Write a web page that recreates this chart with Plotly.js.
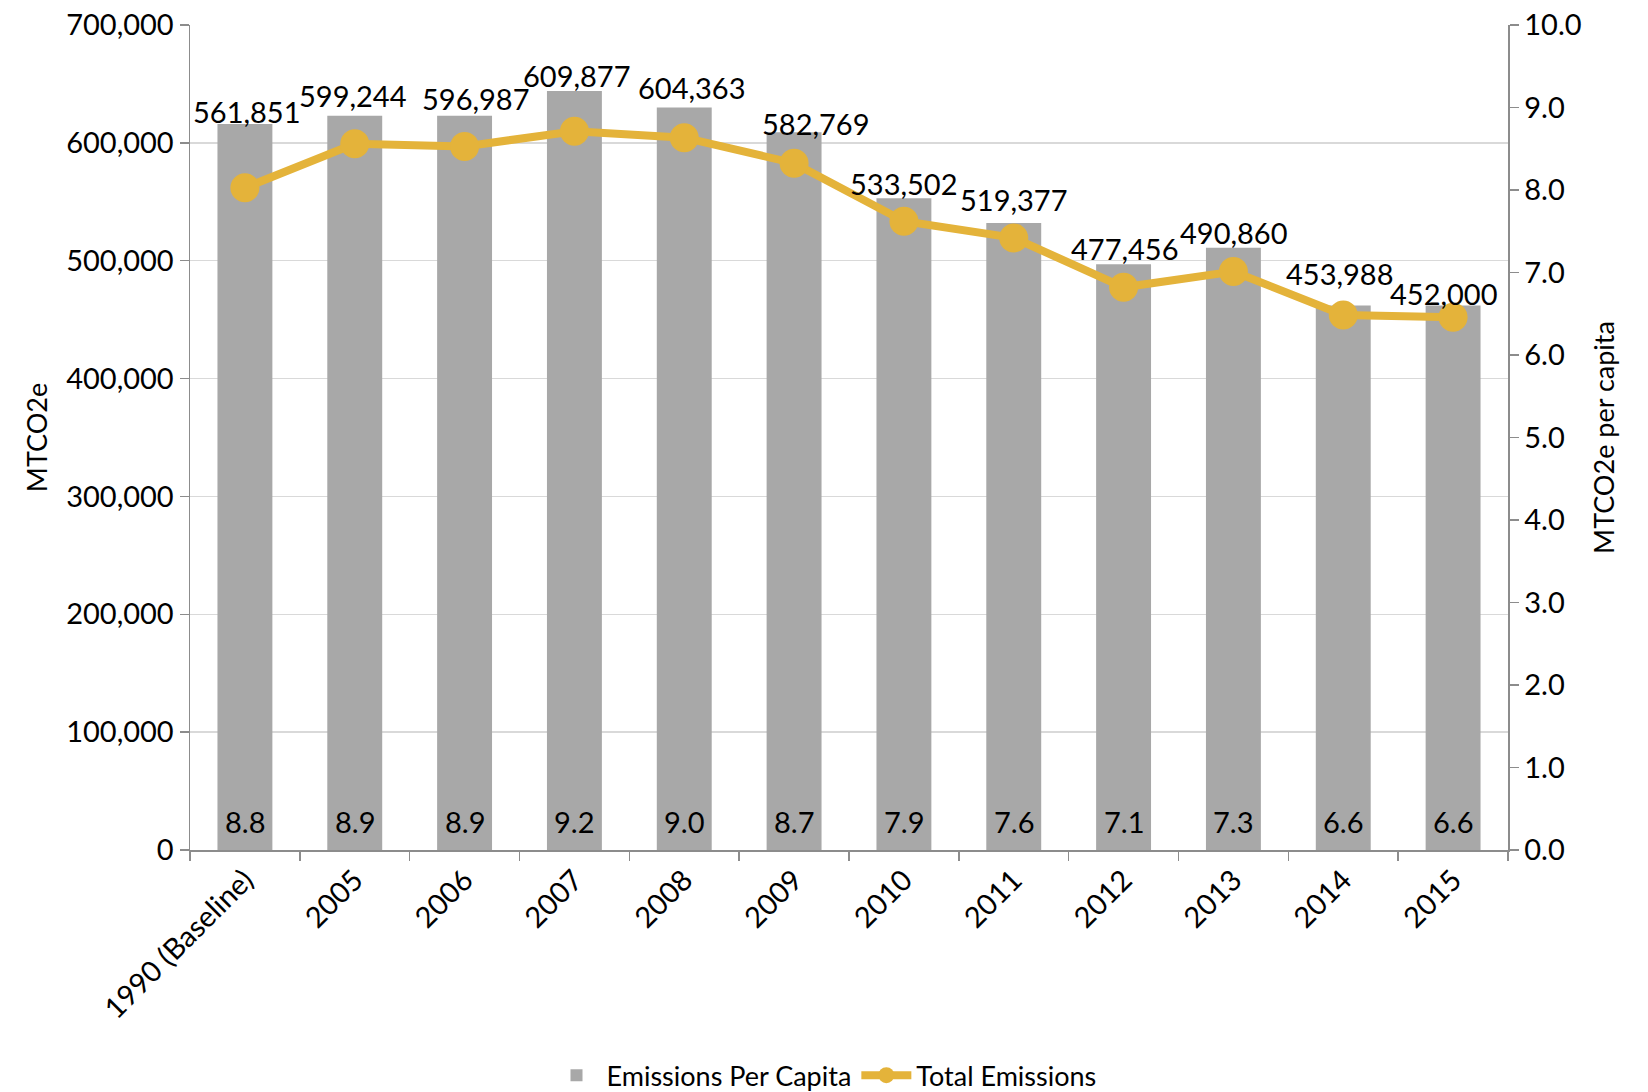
<!DOCTYPE html>
<html>
<head>
<meta charset="utf-8">
<script src="https://cdn.plot.ly/plotly-3.0.1.min.js"></script>
<style>html,body{margin:0;padding:0;background:#fff;}#chart{width:1648px;height:1092px;}</style>
</head>
<body>
<div id="chart"></div>
<script>
const years = ["1990 (Baseline)", "2005", "2006", "2007", "2008", "2009", "2010", "2011", "2012", "2013", "2014", "2015"];
const perCapita = [8.8, 8.9, 8.9, 9.2, 9.0, 8.7, 7.9, 7.6, 7.1, 7.3, 6.6, 6.6];
const totalEmissions = [561851, 599244, 596987, 609877, 604363, 582769, 533502, 519377, 477456, 490860, 453988, 452000];

// label placement offsets (pixels) for total emissions labels
const labelDx = [2, -2, 11, 3, 8, 22, 0, 0, 1, 1, -3, -9];
const labelDy = [76, 48, 48, 56, 50, 40, 38, 38, 39, 39, 41, 24];

const FONT = "Lato, 'Open Sans', sans-serif";
const GOLD = "#E4B33A";
const BARC = "#A8A8A8";
const AXC = "#8C8C8C";

const fmt = v => v.toLocaleString("en-US");

const traces = [
  {
    type: "bar",
    name: "Emissions Per Capita",
    x: years,
    y: perCapita,
    yaxis: "y",
    marker: {color: BARC, line: {width: 0}},
    hoverinfo: "skip"
  },
  {
    type: "scatter",
    mode: "lines+markers",
    name: "Total Emissions",
    x: years,
    y: totalEmissions,
    yaxis: "y2",
    line: {color: GOLD, width: 8},
    marker: {color: GOLD, size: 29},
    hoverinfo: "skip"
  }
];

const annotations = [];
years.forEach((yr, i) => {
  annotations.push({
    x: i, y: totalEmissions[i], xref: "x", yref: "y2",
    text: fmt(totalEmissions[i]), showarrow: false,
    xshift: labelDx[i], yshift: labelDy[i],
    font: {family: FONT, size: 29, color: "#000"}
  });
  annotations.push({
    x: i, y: 0, xref: "x", yref: "y",
    text: perCapita[i].toFixed(1), showarrow: false,
    yanchor: "middle", yshift: 29,
    font: {family: FONT, size: 29, color: "#000"}
  });
});

const layout = {
  width: 1648, height: 1092,
  paper_bgcolor: "#fff", plot_bgcolor: "rgba(0,0,0,0)",
  margin: {l: 190, r: 140, t: 25, b: 242},
  font: {family: FONT, size: 29, color: "#000"},
  bargap: 0.5,
  showlegend: true,
  legend: {
    orientation: "h", xref: "container", yref: "container",
    x: 0.5, xanchor: "center", y: 0.015, yanchor: "middle",
    font: {family: FONT, size: 27, color: "#000"},
    itemwidth: 50, tracegroupgap: 0
  },
  xaxis: {
    type: "category",
    range: [-0.5, 11.5],
    tickangle: -45,
    tickson: "boundaries",
    ticks: "outside", ticklen: 9, tickcolor: AXC, tickwidth: 1.5,
    showline: true, linecolor: AXC, linewidth: 1.5,
    showgrid: false,
    tickfont: {family: FONT, size: 29, color: "#000"}
  },
  yaxis: {
    side: "right",
    range: [0, 10], dtick: 1, tickformat: ".1f",
    showgrid: false, zeroline: false,
    showline: true, linecolor: AXC, linewidth: 1.5,
    ticks: "outside", ticklen: 9, tickcolor: AXC, tickwidth: 1.5,
    tickfont: {family: FONT, size: 29, color: "#000"},
    title: {text: "MTCO2e per capita", font: {family: FONT, size: 27, color: "#000"}, standoff: 14}
  },
  yaxis2: {
    overlaying: "y", side: "left",
    range: [0, 700000], dtick: 100000, tickformat: ",",
    showgrid: true, gridcolor: "#D9D9D9", gridwidth: 1.5,
    zeroline: false,
    showline: true, linecolor: AXC, linewidth: 1.5,
    ticks: "outside", ticklen: 9, tickcolor: AXC, tickwidth: 1.5,
    tickfont: {family: FONT, size: 29, color: "#000"},
    title: {text: "MTCO2e", font: {family: FONT, size: 27, color: "#000"}, standoff: 10}
  },
  annotations: annotations
};

Plotly.newPlot("chart", traces, layout, {displayModeBar: false, staticPlot: true});
</script>
</body>
</html>
